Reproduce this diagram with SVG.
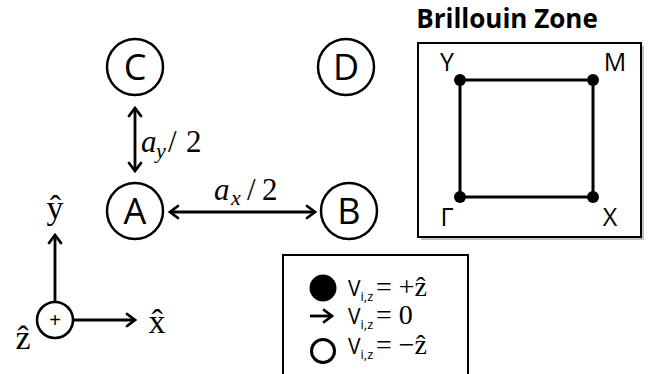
<svg xmlns="http://www.w3.org/2000/svg" width="654" height="374" viewBox="0 0 654 374">
<style>
.node{fill:#fff;stroke:#000;stroke-width:2.5}
.lbl{font-family:"Open Sans","Liberation Sans",sans-serif;font-size:36px;text-anchor:middle;fill:#000}
.math{font-family:"Liberation Serif","DejaVu Serif",serif;fill:#000}
.ln{stroke:#000;stroke-width:2.8;fill:none}
.bz{font-family:"Open Sans","Liberation Sans",sans-serif;font-size:25px;fill:#000;text-anchor:middle}
.leg{font-family:"Open Sans","Liberation Sans",sans-serif;font-size:21px;fill:#000}
</style>
<defs>
<marker id="ah" markerUnits="userSpaceOnUse" markerWidth="14" markerHeight="16" refX="10" refY="7" orient="auto-start-reverse" viewBox="0 0 14 14">
<path d="M2,1 L10,7 L2,13" fill="none" stroke="#000" stroke-width="2.8" stroke-linecap="round" stroke-linejoin="miter"/>
</marker>
</defs>

<g id="connectors">
<line class="ln" x1="135" y1="108" x2="135" y2="171" marker-start="url(#ah)" marker-end="url(#ah)"/>
<line class="ln" x1="170" y1="212" x2="315" y2="212" marker-start="url(#ah)" marker-end="url(#ah)"/>
</g>

<g id="node-C"><circle class="node" cx="135" cy="67" r="28"/><text class="lbl" x="135" y="80">C</text></g>
<g id="node-D"><circle class="node" cx="346" cy="67" r="28"/><text class="lbl" x="346" y="80">D</text></g>
<g id="node-A"><circle class="node" cx="135" cy="211" r="28"/><text class="lbl" x="135" y="224">A</text></g>
<g id="node-B"><circle class="node" cx="349" cy="211" r="28"/><text class="lbl" x="349" y="224">B</text></g>

<g id="label-ay">
<text class="math" font-size="31" font-style="italic" x="141" y="152">a</text>
<text class="math" font-size="22" font-style="italic" x="156" y="158">y</text>
<text class="math" font-size="31" x="168" y="152">/</text>
<text class="math" font-size="31" x="186" y="152">2</text>
</g>
<g id="label-ax">
<text class="math" font-size="31" font-style="italic" x="214" y="200">a</text>
<text class="math" font-size="22" font-style="italic" x="231" y="205">x</text>
<text class="math" font-size="31" x="247" y="200">/</text>
<text class="math" font-size="31" x="262" y="200">2</text>
</g>

<g id="axes">
<line class="ln" x1="55" y1="302" x2="55" y2="235" marker-end="url(#ah)"/>
<line class="ln" x1="73" y1="320" x2="135" y2="320" marker-end="url(#ah)"/>
<circle cx="55" cy="320" r="18" fill="#fff" stroke="#000" stroke-width="2.6"/>
<text x="55" y="327" font-family="Liberation Sans,sans-serif" font-size="20" text-anchor="middle">+</text>
<text class="math" font-size="34" x="55" y="219" text-anchor="middle">ŷ</text>
<text class="math" font-size="34" x="157" y="333" text-anchor="middle">x̂</text>
<text class="math" font-size="34" x="23" y="349" text-anchor="middle">ẑ</text>
</g>

<g id="brillouin">
<text x="507" y="28" font-family="Open Sans,Liberation Sans,sans-serif" font-weight="bold" font-size="26" text-anchor="middle">Brillouin Zone</text>
<rect x="421" y="46" width="223" height="194" fill="#999" opacity="0.6"/>
<rect x="418" y="43" width="223" height="194" fill="#fff" stroke="#000" stroke-width="2"/>
<rect x="460" y="80" width="133" height="117" fill="none" stroke="#000" stroke-width="3"/>
<circle cx="460" cy="80" r="6"/>
<circle cx="593" cy="80" r="6"/>
<circle cx="460" cy="197" r="6"/>
<circle cx="593" cy="197" r="6"/>
<text class="bz" x="447" y="71">Y</text>
<text class="bz" x="615" y="71">M</text>
<text class="bz" x="447" y="226">Γ</text>
<text class="bz" x="610" y="226">X</text>
</g>

<g id="legend">
<rect x="283" y="255" width="185" height="130" fill="#fff" stroke="#000" stroke-width="2"/>
<circle cx="323" cy="288" r="13.5" fill="#000"/>
<line class="ln" x1="310" y1="316" x2="332" y2="316" marker-end="url(#ah)"/>
<circle cx="323" cy="351" r="11.5" fill="none" stroke="#000" stroke-width="3"/>
<text class="leg" x="348" y="296">V<tspan font-size="13" dy="5">i,z</tspan></text>
<text class="math" font-size="28" x="376" y="296">= +ẑ</text>
<text class="leg" x="348" y="324">V<tspan font-size="13" dy="5">i,z</tspan></text>
<text class="math" font-size="28" x="376" y="324">= 0</text>
<text class="leg" x="348" y="354">V<tspan font-size="13" dy="5">i,z</tspan></text>
<text class="math" font-size="28" x="376" y="354">= −ẑ</text>
</g>
</svg>
